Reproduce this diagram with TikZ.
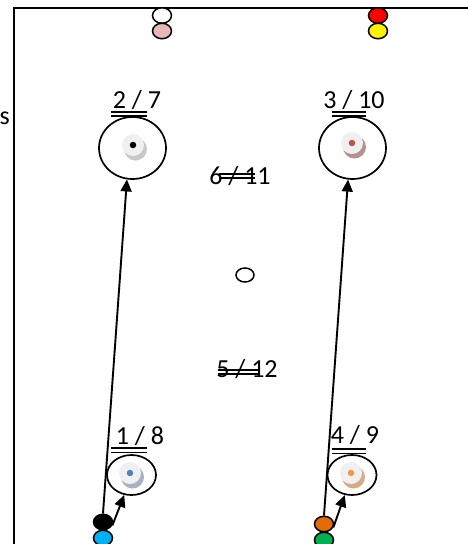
\documentclass[tikz,border=0pt]{standalone}
\usepackage{fontspec}
\setmainfont{Carlito}
\usetikzlibrary{positioning}
\usetikzlibrary{shapes.geometric}
\usetikzlibrary{arrows.meta}
\definecolor{pink colour}{HTML}{E6B9B8}
\definecolor{cyan colour}{HTML}{00B0F0}
\definecolor{orange colour}{HTML}{E36C09}
\definecolor{green colour}{HTML}{00B050}
\definecolor{red pip}{HTML}{C0504D}
\definecolor{blue pip}{HTML}{4F81BD}
\definecolor{orange pip}{HTML}{F79646}
\colorlet{disc colour}{black!6}
\definecolor{grey shadow}{HTML}{C8C8C8}
\definecolor{red shadow}{HTML}{B5908D}
\definecolor{blue shadow}{HTML}{AAB2C2}
\definecolor{orange shadow}{HTML}{D6AB88}
\tikzset{
    % every text in the same font size
    every node/.style={align=center},
}

\begin{document}
\begin{tikzpicture}[
    x=1pt, y=-1pt,
    ring/.style={draw, ellipse, line width=1.7pt, inner sep=0pt},
    big ring/.style={ring, minimum width=67, minimum height=62},
    small ring/.style={ring, minimum width=49, minimum height=40},
    dot/.style={draw, ellipse, line width=1.5pt, fill=#1,
        minimum width=19, minimum height=15.5, inner sep=0pt},
    disc/.style={circle, fill=disc colour, minimum size=22, inner sep=0pt},
    shade/.style={circle, fill=#1, minimum size=23, inner sep=0pt},
    pip/.style={circle, fill=#1, minimum size=6.5, inner sep=0pt},
    score/.style={font=\fontsize{26}{31}\selectfont, inner sep=0pt, anchor=base},
    bars/.style={line width=1.2pt},
    pass/.style={line width=1.9pt, -{Triangle[length=12pt, width=11pt]}},
]
\useasboundingbox (0,0) rectangle (468,544);
\clip (0,0) rectangle (468,544);

% court outline
\draw [line width=2pt] (14,570) -- (14,8) -- (490,8);
\node [score, anchor=base west] (cut text) at (-0.5,124) {s};

% players at the top
\path
    node [dot=white] (top white) at (162,15.5) {}
    node [dot=pink colour] (top pink) at (162,31) {}
    node [dot=red] (top red) at (378,15.5) {}
    node [dot=yellow] (top yellow) at (378,31) {};

% the four rings
\path
    node [big ring] (ring 2) at (132.5,148) {}
    node [big ring] (ring 3) at (352.5,148) {}
    node [small ring] (ring 1) at (131.5,475) {}
    node [small ring] (ring 4) at (352,475) {};

\foreach \n/\px/\py/\pc/\sc in {
        a/133/145/black/grey shadow, b/352/143/red pip/red shadow,
        c/130/473/blue pip/blue shadow, d/351/473/orange pip/orange shadow} {
    \node [shade=\sc] (shadow \n) at (\px+2.5,\py+4) {};
    \node [disc] (disc \n) at (\px,\py) {};
    \node [pip=\pc] (pip \n) at (\px,\py) {};
}

\node [dot=white, minimum width=18, minimum height=14] (centre) at (245,275) {};

% scores
\path
    node [score] (score 2) at (137,108) {2 / 7}
    node [score] (score 3) at (354,108) {3 / 10}
    node [score] (score 6) at (240,184) {6 / 11}
    node [score] (score 5) at (247,377) {5 / 12}
    node [score] (score 1) at (140,444) {1 / 8}
    node [score] (score 4) at (355,443) {4 / 9};

\draw [bars] (111,112) -- (147,112) (111,116) -- (147,116);
\draw [bars] (332,112) -- (366,112) (332,116) -- (366,116);
\draw [bars] (219,174) -- (255,174) (219,178) -- (255,178);
\draw [bars] (218,370) -- (258,370) (218,374) -- (258,374);
\draw [bars] (111,448) -- (147,448) (111,452.5) -- (147,452.5);
\draw [bars] (332,449) -- (366,449) (332,453.5) -- (366,453.5);

% players at the bottom
\path
    node [dot=black] (bottom black) at (103,522) {}
    node [dot=cyan colour] (bottom cyan) at (103,538) {}
    node [dot=orange colour] (bottom orange) at (324,524) {}
    node [dot=green colour] (bottom green) at (324,540) {};

\draw [pass] (bottom black.north) -- (ring 2.260);
\draw [pass] (bottom black.-20) -- (ring 1.250);
\draw [pass] (bottom orange.north) -- (ring 3.262);
\draw [pass] (bottom orange.-20) -- (ring 4.250);

\end{tikzpicture}
\end{document}
